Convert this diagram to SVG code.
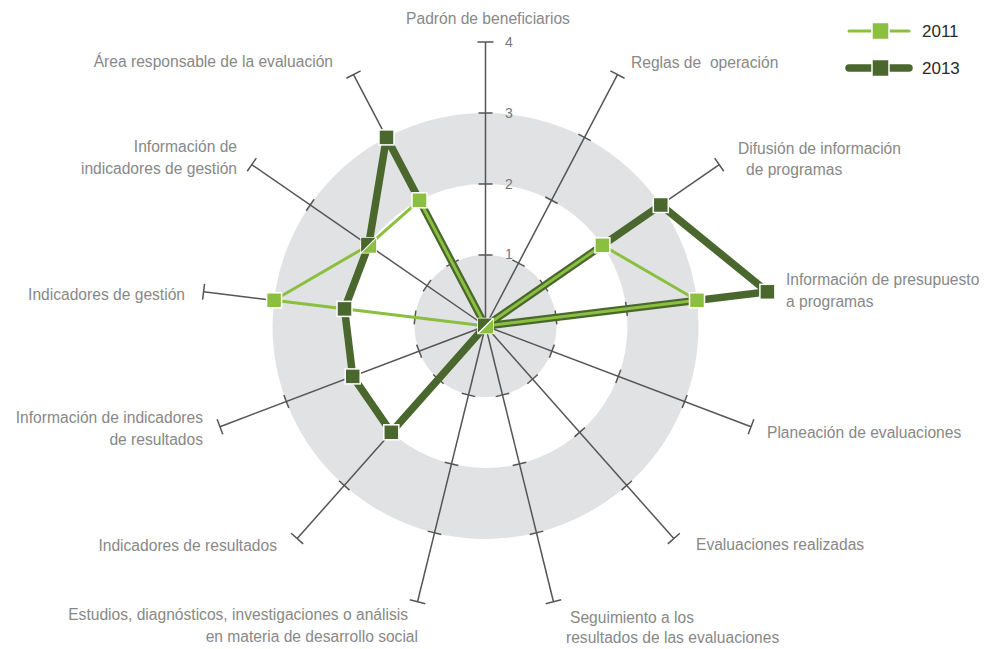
<svg xmlns="http://www.w3.org/2000/svg" xmlns:xlink="http://www.w3.org/1999/xlink" width="985" height="649" viewBox="0 0 985 649">
<style>
  .lbl { font-family: "Liberation Sans", Arial, sans-serif; font-size: 15.6px; fill: #888888; }
  .val { font-family: "Liberation Sans", Arial, sans-serif; font-size: 14px; fill: #777777; }
  .leg { font-family: "Liberation Sans", Arial, sans-serif; font-size: 17px; fill: #2a2a2a; }
  .ax line, .ax path { stroke: #555555; stroke-width: 1.5; fill: none; }
  .s11 { stroke: #8bbf3f; stroke-width: 3; fill: none; stroke-linejoin: round; stroke-linecap: round; }
  .s13 { stroke: #4a672d; stroke-width: 7.5; fill: none; stroke-linejoin: round; stroke-linecap: round; }
  .m11 { fill: #8bbf3f; stroke: #ffffff; stroke-width: 1.5; }
  .m13 { fill: #4a672d; stroke: #ffffff; stroke-width: 1.5; }
</style>
<defs>
  <g id="axisShape" class="ax">
    <line x1="485.5" y1="326" x2="485.5" y2="42"/>
    <path d="M478.5 255h14M478.5 184h14M478.5 113h14M477.5 42h16"/>
  </g>
  <rect id="mk" x="-7.5" y="-7.5" width="15" height="15"/>
  <g id="split">
    <rect x="-7.5" y="-7.5" width="15" height="15" fill="#ffffff" stroke="#ffffff" stroke-width="1.5"/>
    <path d="M-7.5 -7.5H7.5L-7.5 7.5Z" fill="#4a672d"/>
    <path d="M7.5 -7.5V7.5H-7.5Z" fill="#8bbf3f"/>
    <path d="M7.5 -7.5L-7.5 7.5" stroke="#ffffff" stroke-width="1.2"/>
  </g>
</defs>

<g id="background">
  <circle cx="485.5" cy="326" r="177.5" fill="none" stroke="#e1e2e3" stroke-width="71"/>
  <circle cx="485.5" cy="326" r="71" fill="#e1e2e3"/>
</g>

<g id="node-padron">
  <use xlink:href="#axisShape" href="#axisShape"/>
  <text class="lbl" x="488" y="24" text-anchor="middle">Padrón de beneficiarios</text>
</g>
<g id="node-reglas">
  <use xlink:href="#axisShape" href="#axisShape" transform="rotate(27.6923 485.5 326)"/>
  <text class="lbl" x="631" y="68" xml:space="preserve" style="white-space:pre">Reglas de  operación</text>
</g>
<g id="node-difusion">
  <use xlink:href="#axisShape" href="#axisShape" transform="rotate(55.3846 485.5 326)"/>
  <text class="lbl" x="738" y="154">Difusión de información</text>
  <text class="lbl" x="746" y="175">de programas</text>
</g>
<g id="node-presupuesto">
  <use xlink:href="#axisShape" href="#axisShape" transform="rotate(83.0769 485.5 326)"/>
  <text class="lbl" x="786" y="285">Información de presupuesto</text>
  <text class="lbl" x="786" y="307">a programas</text>
</g>
<g id="node-planeacion">
  <use xlink:href="#axisShape" href="#axisShape" transform="rotate(110.7692 485.5 326)"/>
  <text class="lbl" x="767" y="438">Planeación de evaluaciones</text>
</g>
<g id="node-evaluaciones">
  <use xlink:href="#axisShape" href="#axisShape" transform="rotate(138.4615 485.5 326)"/>
  <text class="lbl" x="696" y="550">Evaluaciones realizadas</text>
</g>
<g id="node-seguimiento">
  <use xlink:href="#axisShape" href="#axisShape" transform="rotate(166.1538 485.5 326)"/>
  <text class="lbl" x="570" y="623">Seguimiento a los</text>
  <text class="lbl" x="566" y="643">resultados de las evaluaciones</text>
</g>
<g id="node-estudios">
  <use xlink:href="#axisShape" href="#axisShape" transform="rotate(193.8462 485.5 326)"/>
  <text class="lbl" x="408" y="620" text-anchor="end">Estudios, diagnósticos, investigaciones o análisis</text>
  <text class="lbl" x="418" y="642" text-anchor="end">en materia de desarrollo social</text>
</g>
<g id="node-ind-resultados">
  <use xlink:href="#axisShape" href="#axisShape" transform="rotate(221.5385 485.5 326)"/>
  <text class="lbl" x="277" y="551" text-anchor="end">Indicadores de resultados</text>
</g>
<g id="node-info-ind-resultados">
  <use xlink:href="#axisShape" href="#axisShape" transform="rotate(249.2308 485.5 326)"/>
  <text class="lbl" x="203" y="423" text-anchor="end">Información de indicadores</text>
  <text class="lbl" x="203" y="445" text-anchor="end">de resultados</text>
</g>
<g id="node-ind-gestion">
  <use xlink:href="#axisShape" href="#axisShape" transform="rotate(276.9231 485.5 326)"/>
  <text class="lbl" x="185" y="300" text-anchor="end">Indicadores de gestión</text>
</g>
<g id="node-info-ind-gestion">
  <use xlink:href="#axisShape" href="#axisShape" transform="rotate(304.6154 485.5 326)"/>
  <text class="lbl" x="237" y="152" text-anchor="end">Información de</text>
  <text class="lbl" x="237" y="174" text-anchor="end">indicadores de gestión</text>
</g>
<g id="node-area">
  <use xlink:href="#axisShape" href="#axisShape" transform="rotate(332.3077 485.5 326)"/>
  <text class="lbl" x="333" y="67" text-anchor="end">Área responsable de la evaluación</text>
</g>

<g id="scale">
  <text class="val" x="505" y="47">4</text>
  <text class="val" x="505" y="118">3</text>
  <text class="val" x="505" y="189">2</text>
  <text class="val" x="505" y="259">1</text>
</g>

<g id="connectors">
  <path id="series-2013" class="s13" d="M485.5 326L660.8 205L767.4 291.8L485.5 326L391.3 432.3L352.7 376.4L344.5 308.9L368.6 245.3L386.5 137.4Z"/>
  <path id="series-2011" class="s11" d="M485.5 326L602.4 245.3L697 300.3L485.5 326L274.1 300.3L368.6 245.3L419.5 200.3Z"/>
</g>

<g id="markers">
  <use xlink:href="#mk" href="#mk" class="m13" x="660.8" y="205"/>
  <use xlink:href="#mk" href="#mk" class="m13" x="767.4" y="291.8"/>
  <use xlink:href="#mk" href="#mk" class="m13" x="391.3" y="432.3"/>
  <use xlink:href="#mk" href="#mk" class="m13" x="352.7" y="376.4"/>
  <use xlink:href="#mk" href="#mk" class="m13" x="344.5" y="308.9"/>
  <use xlink:href="#mk" href="#mk" class="m13" x="386.5" y="137.4"/>
  <use xlink:href="#mk" href="#mk" class="m11" x="602.4" y="245.3"/>
  <use xlink:href="#mk" href="#mk" class="m11" x="697" y="300.3"/>
  <use xlink:href="#mk" href="#mk" class="m11" x="274.1" y="300.3"/>
  <use xlink:href="#mk" href="#mk" class="m11" x="419.5" y="200.3"/>
  <use xlink:href="#split" href="#split" x="368.6" y="245.3"/>
  <use xlink:href="#split" href="#split" x="485.5" y="326"/>
</g>

<g id="legend">
  <line x1="849" y1="31" x2="909" y2="31" class="s11" stroke-linecap="butt"/>
  <rect x="872" y="22.5" width="17" height="17" class="m11" stroke-width="1"/>
  <text class="leg" x="922" y="37">2011</text>
  <line x1="849" y1="68" x2="909" y2="68" class="s13" stroke-width="8" stroke-linecap="butt"/>
  <rect x="872" y="59.5" width="17" height="17" class="m13" stroke-width="1"/>
  <text class="leg" x="922" y="74">2013</text>
</g>
</svg>
